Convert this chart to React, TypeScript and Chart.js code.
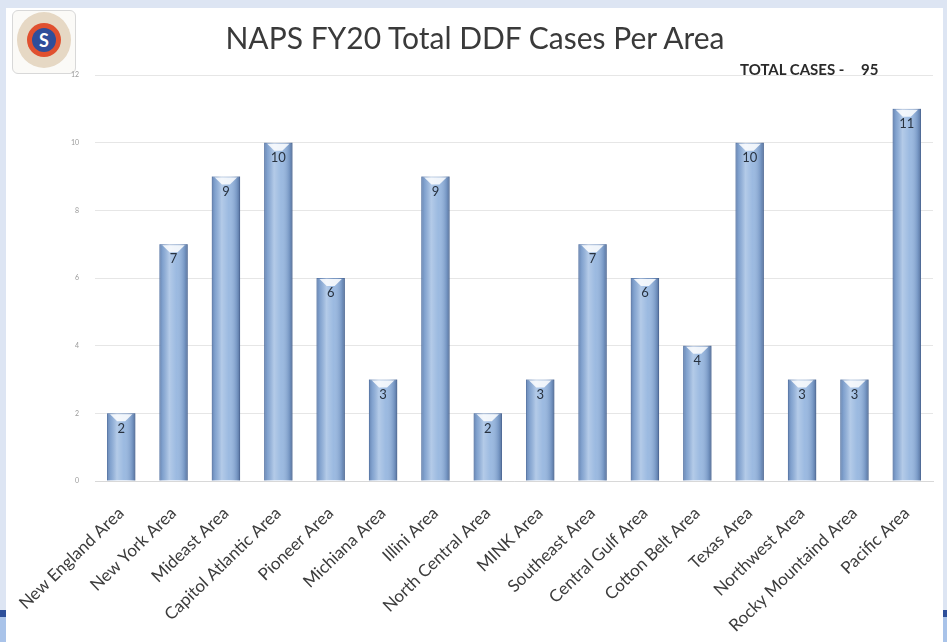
import React, { useEffect, useRef } from "react";
import { Chart, registerables } from "chart.js";

Chart.register(...registerables);

const categories = [
  "New England Area",
  "New York Area",
  "Mideast Area",
  "Capitol Atlantic Area",
  "Pioneer Area",
  "Michiana Area",
  "Illini Area",
  "North Central Area",
  "MINK Area",
  "Southeast Area",
  "Central Gulf Area",
  "Cotton Belt Area",
  "Texas Area",
  "Northwest Area",
  "Rocky Mountaind Area",
  "Pacific Area",
];
const cases = [2, 7, 9, 10, 6, 3, 9, 2, 3, 7, 6, 4, 10, 3, 3, 11];
const yTicks = [0, 2, 4, 6, 8, 10, 12];
const titleText = "NAPS FY20 Total DDF Cases Per Area";
const totalLabel = "TOTAL CASES -";
const totalValue = "95";

const barDecor = {
  id: "barDecor",
  afterDatasetsDraw(chart: any) {
    const ctx = chart.ctx;
    const meta = chart.getDatasetMeta(0);
    meta.data.forEach((bar: any, i: number) => {
      const { x, y, base, width } = bar.getProps(["x", "y", "base", "width"], true);
      const l = x - width / 2;
      const r = x + width / 2;
      ctx.save();
      const g = ctx.createLinearGradient(l, 0, r, 0);
      g.addColorStop(0, "rgba(60,90,140,0.55)");
      g.addColorStop(0.12, "rgba(80,110,160,0.25)");
      g.addColorStop(0.35, "rgba(255,255,255,0.3)");
      g.addColorStop(0.6, "rgba(255,255,255,0.08)");
      g.addColorStop(0.88, "rgba(60,90,140,0.3)");
      g.addColorStop(1, "rgba(40,65,110,0.6)");
      ctx.fillStyle = g;
      ctx.fillRect(l, y, width, base - y);
      // top cap highlight
      ctx.fillStyle = "rgba(255,255,255,0.85)";
      ctx.beginPath();
      ctx.moveTo(l + 3, y + 1);
      ctx.lineTo(r - 3, y + 1);
      ctx.lineTo(x + 4, y + 8);
      ctx.lineTo(x - 4, y + 8);
      ctx.closePath();
      ctx.fill();
      // value label
      ctx.fillStyle = "#28323f";
      ctx.font = "13px Lato";
      ctx.textAlign = "center";
      ctx.textBaseline = "middle";
      ctx.fillText(String(cases[i]), x, y + 15);
      ctx.restore();
    });
  },
};

export default function App() {
  const ref = useRef<HTMLCanvasElement | null>(null);

  useEffect(() => {
    document.body.style.margin = "0";
    const chart = new Chart(ref.current as HTMLCanvasElement, {
      type: "bar",
      data: {
        labels: categories,
        datasets: [
          {
            data: cases,
            backgroundColor: "#93b4de",
            borderColor: "#6f8fbd",
            borderWidth: 1,
            categoryPercentage: 1,
            barPercentage: 0.54,
          },
        ],
      },
      options: {
        responsive: false,
        animation: false,
        layout: { padding: { top: 75, right: 14, left: 0, bottom: 0 } },
        plugins: { legend: { display: false }, tooltip: { enabled: false } },
        scales: {
          y: {
            min: 0,
            max: 12,
            afterFit: (s: any) => {
              s.width = 95;
            },
            afterBuildTicks: (s: any) => {
              s.ticks = yTicks.map((v) => ({ value: v }));
            },
            border: { display: false },
            grid: { color: "#e6e6e6", drawTicks: false },
            ticks: { color: "#9a9a9a", font: { family: "Lato", size: 7 }, padding: 16 },
          },
          x: {
            afterFit: (s: any) => {
              s.height = 161;
            },
            border: { color: "#d8d8d8" },
            grid: { display: false },
            ticks: {
              color: "#3c3c3c",
              font: { family: "Lato", size: 17 },
              minRotation: 44,
              maxRotation: 44,
              autoSkip: false,
              padding: 14,
            },
          },
        },
      },
      plugins: [barDecor],
    });
    return () => chart.destroy();
  }, []);

  return (
    <div style={{ position: "absolute", left: 0, top: 0, width: 947, height: 642, background: "#dde5f3", overflow: "hidden" }}>
      <div style={{ position: "absolute", left: 6, top: 8, width: 937, height: 634, background: "#ffffff" }} />
      <div style={{ position: "absolute", left: 0, top: 610, width: 6, height: 7, background: "#2d4f9a" }} />
      <div style={{ position: "absolute", left: 0, top: 617, width: 6, height: 25, background: "#a9c3e9" }} />
      <div style={{ position: "absolute", left: 943, top: 610, width: 4, height: 7, background: "#2d4f9a" }} />
      <div style={{ position: "absolute", left: 943, top: 617, width: 4, height: 25, background: "#a9c3e9" }} />
      {/* logo */}
      <div style={{ position: "absolute", left: 12, top: 10, width: 62, height: 62, border: "1px solid #d8d8d8", borderRadius: 6, background: "#fbfaf7" }} />
      <div style={{ position: "absolute", left: 17, top: 12, width: 54, height: 56, borderRadius: "50%", background: "#e6d8c4" }} />
      <div style={{ position: "absolute", left: 27, top: 23, width: 34, height: 34, borderRadius: "50%", background: "#e0502f" }} />
      <div style={{ position: "absolute", left: 32, top: 28, width: 24, height: 24, borderRadius: "50%", background: "#2f4e9a", color: "#ffffff", font: "bold 18px Lato", textAlign: "center", lineHeight: "24px" }}>S</div>
      <canvas ref={ref} width={947} height={642} style={{ position: "absolute", left: 0, top: 0 }} />
      <div style={{ position: "absolute", left: 0, width: 950, top: 19, textAlign: "center", font: "30px Lato", color: "#3a3a3a", whiteSpace: "nowrap" }}>{titleText}</div>
      <div style={{ position: "absolute", left: 740, top: 60, font: "bold 15px Lato", color: "#2a2a2a", whiteSpace: "pre" }}>{totalLabel}</div>
      <div style={{ position: "absolute", left: 861, top: 60, font: "bold 15px Lato", color: "#2a2a2a", whiteSpace: "pre" }}>{totalValue}</div>
    </div>
  );
}
